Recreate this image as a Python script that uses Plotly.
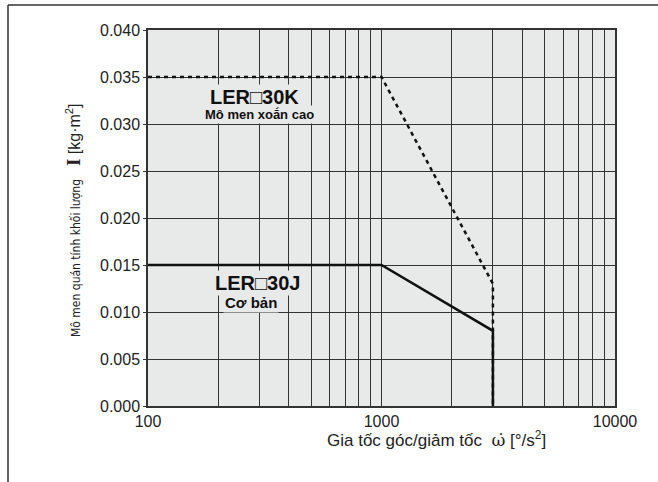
import plotly.graph_objects as go

# Data
accel_k = [100, 1000, 3000, 3000]
inertia_k = [0.035, 0.035, 0.013, 0.0]
accel_j = [100, 1000, 3000, 3000]
inertia_j = [0.015, 0.015, 0.008, 0.0]

x_major_vals = [100, 1000, 10000]
x_major_labels = ["100", "1000", "10000"]
x_minor_vals = [200, 300, 400, 500, 600, 700, 800, 900,
                2000, 3000, 4000, 5000, 6000, 7000, 8000, 9000]
y_tick_vals = [0.000, 0.005, 0.010, 0.015, 0.020, 0.025, 0.030, 0.035, 0.040]

W, H = 658, 482
L, R, T, B = 148, 43, 30, 76
PW, PH = W - L - R, H - T - B


def px(x):
    return (x - L) / PW


def py(y):
    return (H - B - y) / PH


BG = "#e8e9e9"

fig = go.Figure()
fig.add_trace(go.Scatter(x=accel_k, y=inertia_k, mode="lines",
                         line=dict(color="#111", width=2.5, dash="4px,4px"),
                         showlegend=False, hoverinfo="skip"))
fig.add_trace(go.Scatter(x=accel_j, y=inertia_j, mode="lines",
                         line=dict(color="#111", width=2.5),
                         showlegend=False, hoverinfo="skip"))

font_main = "Liberation Sans, Arial, sans-serif"

fig.update_layout(
    width=W, height=H,
    margin=dict(l=L, r=R, t=T, b=B, pad=0),
    paper_bgcolor="white", plot_bgcolor=BG,
    font=dict(family=font_main, size=16, color="#222"),
    xaxis=dict(type="log", range=[2, 4], tickvals=x_major_vals, ticktext=x_major_labels,
               showgrid=True, gridcolor="#333", gridwidth=1, ticks="",
               minor=dict(tickvals=x_minor_vals, showgrid=True, gridcolor="#333",
                          gridwidth=1, ticks=""),
               showline=True, linecolor="#333", linewidth=1.5, mirror=True,
               zeroline=False, tickfont=dict(size=16)),
    yaxis=dict(range=[0, 0.04], tickvals=y_tick_vals, tickformat=".3f",
               showgrid=True, gridcolor="#333", gridwidth=1,
               ticks="outside", ticklen=3, tickcolor="#333",
               showline=True, linecolor="#333", linewidth=1.5, mirror=True,
               zeroline=False, tickfont=dict(size=16)),
)

annos = [
    dict(x=2.454, y=0.03287, text="<b>LER□30K</b>", font=dict(size=20, color="#111")),
    dict(x=2.477, y=0.03106, text="<b>Mô men xoắn cao</b>", font=dict(size=13, color="#111")),
    dict(x=2.471, y=0.01309, text="<b>LER□30J</b>", font=dict(size=20, color="#111")),
    dict(x=2.439, y=0.01096, text="<b>Cơ bản</b>", font=dict(size=15, color="#111")),
]
for a in annos:
    fig.add_annotation(xref="x", yref="y", showarrow=False, bgcolor=BG,
                       borderpad=1, **a)

fig.add_annotation(xref="paper", yref="paper", x=px(436), y=py(452), showarrow=False,
                   text=('Gia tốc góc/giảm tốc  '
                         '<span style="font-family:DejaVu Serif">ω̇</span>'
                         ' [°/s<sup>2</sup>]'),
                   font=dict(size=17, color="#222"))

ytitle = ('<span style="font-family:Liberation Sans Narrow, DejaVu Sans Condensed, sans-serif;'
          'font-size:12px">Mô men quán tính khối lượng</span>   '
          '<span style="font-family:Liberation Serif, serif;font-size:18px"><b>I</b></span> '
          '<span style="font-size:16px">[kg·m<sup>2</sup>]</span>')
fig.add_annotation(xref="paper", yref="paper", x=px(61.5), y=py(220), showarrow=False,
                   text=ytitle, textangle=-90, font=dict(size=16, color="#222"))

# outer frame (partially visible)
fig.add_shape(type="line", xref="paper", yref="paper", x0=px(8), x1=px(660),
              y0=py(5), y1=py(5), line=dict(color="#333", width=1.5))
fig.add_shape(type="line", xref="paper", yref="paper", x0=px(8), x1=px(8),
              y0=py(5), y1=py(484), line=dict(color="#333", width=1.5))

fig.write_html("out.html", config={"displayModeBar": False},
               post_script="document.body.style.margin='0';document.body.style.overflow='hidden';")
